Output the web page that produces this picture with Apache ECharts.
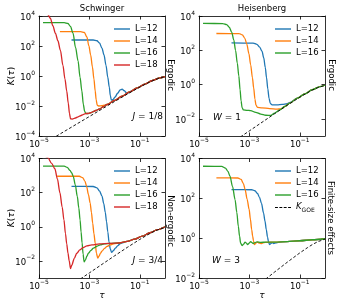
<!DOCTYPE html>
<html><head><meta charset="utf-8">
<script src="https://cdn.jsdelivr.net/npm/echarts@6/dist/echarts.min.js"></script>
<style>html,body{margin:0;padding:0;background:#fff}#c{width:340px;height:306px}</style>
</head><body><div id="c"></div>
<script>
// Axes are decade exponents: x = log10(tau), y = log10(K)
const xTicks = [-5, -3, -1];
const yTicksTL = [-4, -2, 0, 2, 4];
const yTicksTR = [-2, 0, 2, 4];
const yTicksBL = [-2, 0, 2, 4];
const yTicksBR = [-2, 0, 2, 4];
const names = ['L=12', 'L=14', 'L=16', 'L=18'];
const colors = ['#1f77b4', '#ff7f0e', '#2ca02c', '#d62728'];

// K_GOE reference line
const goeT = [-5, -4, -3, -2, -1.5, -1, -0.7, -0.5, -0.3, 0];
const goeK = [-4.70, -3.70, -2.70, -1.70, -1.21, -0.74, -0.48, -0.32, -0.185, -0.045];

// Top-left: Schwinger, J = 1/8
const tlL12t = [-3.71, -2.85, -2.7, -2.6, -2.5, -2.42, -2.34, -2.27, -2.21, -2.17, -2.13, -2.07, -1.98, -1.88, -1.78, -1.7, -1.62, -1.53, -1.45, -1.3, -1.1, -0.8, -0.5, -0.2, 0];
const tlL12k = [2.40, 2.40, 2.35, 2.2, 1.85, 1.4, 0.7, -0.1, -0.75, -1.3, -1.6, -1.58, -1.4, -1.15, -0.93, -0.88, -0.98, -1.12, -1.12, -0.98, -0.8, -0.54, -0.3, -0.12, -0.04];
const tlL14t = [-4.17, -3.35, -3.2, -3.1, -3.02, -2.95, -2.88, -2.82, -2.77, -2.73, -2.69, -2.63, -2.5, -2.4, -2.3, -2.0, -1.7, -1.4, -1.1, -0.8, -0.5, -0.2, 0];
const tlL14k = [2.96, 2.96, 2.9, 2.6, 2.0, 1.4, 0.6, -0.2, -1.0, -1.6, -1.95, -2.0, -1.98, -1.94, -1.9, -1.62, -1.34, -1.06, -0.79, -0.54, -0.3, -0.12, -0.04];
const tlL16t = [-4.84, -4.0, -3.85, -3.75, -3.65, -3.55, -3.45, -3.37, -3.3, -3.24, -3.19, -3.14, -3.05, -2.95, -2.85, -2.75, -2.6, -2.45, -2.3, -2.0, -1.7, -1.4, -1.1, -0.8, -0.5, -0.2, 0];
const tlL16k = [3.56, 3.56, 3.5, 3.3, 2.85, 1.9, 1.0, -0.1, -1.0, -1.9, -2.35, -2.5, -2.5, -2.45, -2.38, -2.3, -2.2, -2.05, -1.9, -1.62, -1.34, -1.06, -0.79, -0.54, -0.3, -0.12, -0.04];
const tlL18t = [-5.0, -4.8, -4.65, -4.55, -4.45, -4.35, -4.25, -4.15, -4.05, -3.97, -3.9, -3.84, -3.79, -3.75, -3.68, -3.55, -3.45, -3.35, -3.25, -3.14, -3.05, -2.95, -2.85, -2.75, -2.6, -2.45, -2.3, -2.0, -1.7, -1.4, -1.1, -0.8, -0.5, -0.2, 0];
const tlL18k = [4.2, 4.18, 4.1, 3.85, 3.35, 2.85, 2.35, 1.7, 0.7, -0.2, -1.0, -1.8, -2.5, -2.85, -2.87, -2.8, -2.72, -2.65, -2.57, -2.5, -2.5, -2.45, -2.38, -2.3, -2.2, -2.05, -1.9, -1.62, -1.34, -1.06, -0.79, -0.54, -0.3, -0.12, -0.04];

// Top-right: Heisenberg, W = 1
const trL12t = [-3.71, -2.85, -2.7, -2.6, -2.5, -2.43, -2.37, -2.32, -2.27, -2.22, -2.17, -2.1, -1.9, -1.7, -1.5, -1.35, -1.1, -0.8, -0.5, -0.2, 0];
const trL12k = [2.43, 2.42, 2.35, 2.2, 1.95, 1.55, 1.0, 0.4, -0.25, -0.8, -1.1, -1.18, -1.18, -1.15, -1.12, -1.02, -0.79, -0.54, -0.3, -0.12, -0.04];
const trL14t = [-4.31, -3.4, -3.28, -3.18, -3.1, -3.02, -2.95, -2.88, -2.83, -2.78, -2.74, -2.68, -2.5, -2.2, -1.9, -1.75, -1.6, -1.4, -1.1, -0.8, -0.5, -0.2, 0];
const trL14k = [2.98, 2.97, 2.9, 2.7, 2.35, 1.8, 1.15, 0.4, -0.2, -0.85, -1.2, -1.33, -1.36, -1.4, -1.43, -1.42, -1.28, -1.08, -0.79, -0.54, -0.3, -0.12, -0.04];
const trL16t = [-4.84, -4.05, -3.9, -3.8, -3.7, -3.62, -3.55, -3.48, -3.42, -3.37, -3.33, -3.29, -3.24, -3.1, -2.95, -2.75, -2.55, -2.35, -2.15, -2.0, -1.8, -1.6, -1.4, -1.1, -0.8, -0.5, -0.2, 0];
const trL16k = [3.57, 3.56, 3.5, 3.35, 3.05, 2.6, 2.0, 1.25, 0.5, -0.3, -0.95, -1.35, -1.48, -1.5, -1.52, -1.62, -1.72, -1.79, -1.8, -1.66, -1.48, -1.28, -1.08, -0.79, -0.54, -0.3, -0.12, -0.04];

// Bottom-left: Schwinger, J = 3/4
const blL12t = [-3.71, -2.85, -2.7, -2.6, -2.5, -2.43, -2.37, -2.32, -2.27, -2.22, -2.17, -2.12, -2.05, -1.97, -1.87, -1.77, -1.5, -1.2, -0.9, -0.6, -0.3, 0];
const blL12k = [2.37, 2.36, 2.28, 2.1, 1.8, 1.35, 0.85, 0.3, -0.3, -0.9, -1.3, -1.5, -1.4, -1.25, -1.1, -0.98, -0.86, -0.72, -0.55, -0.35, -0.17, 0.0];
const blL14t = [-4.28, -3.4, -3.27, -3.18, -3.11, -3.04, -2.97, -2.92, -2.87, -2.82, -2.77, -2.72, -2.67, -2.62, -2.56, -2.5, -2.4, -2.3, -2.17, -2.04, -1.8, -1.5, -1.2, -0.9, -0.6, -0.3, 0];
const blL14k = [2.96, 2.96, 2.88, 2.68, 2.37, 1.9, 1.39, 0.85, 0.22, -0.4, -0.96, -1.55, -1.84, -1.72, -1.55, -1.42, -1.27, -1.15, -1.06, -1.0, -0.95, -0.86, -0.72, -0.55, -0.35, -0.17, 0.0];
const blL16t = [-4.84, -4.0, -3.88, -3.77, -3.7, -3.64, -3.56, -3.48, -3.42, -3.37, -3.33, -3.29, -3.25, -3.21, -3.16, -3.1, -3.04, -2.94, -2.84, -2.7, -2.57, -2.4, -2.2, -1.8, -1.5, -1.2, -0.9, -0.6, -0.3, 0];
const blL16k = [3.55, 3.55, 3.48, 3.3, 3.15, 2.95, 2.45, 1.78, 1.1, 0.4, -0.3, -0.95, -1.6, -2.05, -1.95, -1.72, -1.55, -1.38, -1.25, -1.14, -1.06, -1.0, -0.97, -0.95, -0.86, -0.72, -0.55, -0.35, -0.17, 0.0];
const blL18t = [-5.0, -4.8, -4.65, -4.5, -4.37, -4.27, -4.17, -4.08, -4.01, -3.95, -3.9, -3.85, -3.8, -3.75, -3.7, -3.6, -3.5, -3.38, -3.25, -3.1, -2.9, -2.6, -2.2, -1.8, -1.5, -1.2, -0.9, -0.6, -0.3, 0];
const blL18k = [4.2, 4.17, 4.05, 3.72, 3.4, 2.8, 2.0, 1.15, 0.4, -0.4, -1.0, -1.55, -2.0, -2.45, -2.25, -1.85, -1.55, -1.35, -1.22, -1.12, -1.06, -1.0, -0.97, -0.95, -0.86, -0.72, -0.55, -0.35, -0.17, 0.0];

// Bottom-right: Heisenberg, W = 3
const brL12t = [-3.71, -2.9, -2.78, -2.68, -2.6, -2.52, -2.44, -2.38, -2.33, -2.28, -2.24, -2.2, -2.15, -2.09, -2.03, -1.95, -1.85, -1.5, -1.0, -0.5, 0];
const brL12k = [2.44, 2.43, 2.38, 2.25, 2.05, 1.75, 1.27, 0.85, 0.43, 0.05, -0.2, -0.32, -0.27, -0.22, -0.27, -0.24, -0.21, -0.17, -0.13, -0.08, -0.03];
const brL14t = [-4.31, -3.45, -3.33, -3.24, -3.17, -3.09, -3.01, -2.96, -2.91, -2.87, -2.84, -2.8, -2.74, -2.68, -2.6, -2.52, -2.42, -2.3, -2.0, -1.5, -1.0, -0.5, 0];
const brL14k = [3.03, 3.02, 2.95, 2.75, 2.44, 1.95, 1.44, 0.95, 0.43, 0.1, -0.12, -0.32, -0.25, -0.2, -0.25, -0.27, -0.22, -0.21, -0.2, -0.17, -0.13, -0.08, -0.03];
const brL16t = [-4.84, -4.1, -3.95, -3.85, -3.77, -3.67, -3.57, -3.5, -3.44, -3.39, -3.35, -3.29, -3.23, -3.17, -3.12, -3.07, -3.01, -2.95, -2.9, -2.85, -2.78, -2.7, -2.55, -2.35, -2.0, -1.5, -1.0, -0.5, 0];
const brL16k = [3.61, 3.6, 3.52, 3.35, 3.11, 2.6, 1.94, 1.3, 0.6, 0.1, -0.24, -0.37, -0.3, -0.2, -0.25, -0.32, -0.25, -0.17, -0.22, -0.27, -0.22, -0.19, -0.21, -0.2, -0.2, -0.17, -0.13, -0.08, -0.03];

const FF = 'DejaVu Sans';
const zip = (a, b) => a.map((v, i) => [v, b[i]]);

const panels = [
  { grid: { left: 39, top: 16, width: 126, height: 120 }, yMin: -4, yMax: 4, yTicks: yTicksTL,
    curves: [[tlL12t, tlL12k], [tlL14t, tlL14k], [tlL16t, tlL16k], [tlL18t, tlL18k]] },
  { grid: { left: 199, top: 16, width: 126, height: 120 }, yMin: -3, yMax: 4, yTicks: yTicksTR,
    curves: [[trL12t, trL12k], [trL14t, trL14k], [trL16t, trL16k]] },
  { grid: { left: 39, top: 158.5, width: 126, height: 119.5 }, yMin: -3, yMax: 4, yTicks: yTicksBL,
    curves: [[blL12t, blL12k], [blL14t, blL14k], [blL16t, blL16k], [blL18t, blL18k]] },
  { grid: { left: 199, top: 158.5, width: 126, height: 119.5 }, yMin: -2, yMax: 4, yTicks: yTicksBR,
    curves: [[brL12t, brL12k], [brL14t, brL14k], [brL16t, brL16k]] }
];

const expFmt = v => '{b|10}{s|' + (v < 0 ? '\u2212' + (-v) : String(v)) + '}';
const labRich = {
  b: { fontSize: 8.5, fontFamily: FF, color: '#000', lineHeight: 12, verticalAlign: 'bottom' },
  s: { fontSize: 6, fontFamily: FF, color: '#000', lineHeight: 5, verticalAlign: 'top' }
};
const lineS = { color: '#000', width: 0.8 };

const grids = [], xAxes = [], yAxes = [], series = [];
panels.forEach((p, pi) => {
  grids.push(Object.assign({ containLabel: false, show: false }, p.grid));
  [['bottom', true], ['top', false]].forEach(([pos, lab]) => {
    xAxes.push({
      type: 'value', gridIndex: pi, position: pos, min: -5, max: 0,
      axisLine: { show: true, onZero: false, lineStyle: lineS },
      axisTick: { show: true, inside: true, length: 3.5, customValues: xTicks, lineStyle: lineS },
      axisLabel: { show: lab, customValues: xTicks, formatter: expFmt, rich: labRich, margin: 1 },
      splitLine: { show: false }
    });
  });
  [['left', true], ['right', false]].forEach(([pos, lab]) => {
    yAxes.push({
      type: 'value', gridIndex: pi, position: pos, min: p.yMin, max: p.yMax,
      axisLine: { show: true, onZero: false, lineStyle: lineS },
      axisTick: { show: true, inside: true, length: 3.5, customValues: p.yTicks, lineStyle: lineS },
      axisLabel: { show: lab, customValues: p.yTicks, formatter: expFmt, rich: labRich, margin: 4 },
      splitLine: { show: false }
    });
  });
  p.curves.forEach((c, ci) => {
    series.push({
      type: 'line', name: names[ci], xAxisIndex: 2 * pi, yAxisIndex: 2 * pi,
      data: zip(c[0], c[1]), symbol: 'none', showSymbol: false,
      smooth: 0.3, smoothMonotone: 'x', clip: true,
      lineStyle: { color: colors[ci], width: 1.3 }, itemStyle: { color: colors[ci] },
      emphasis: { disabled: true }, silent: true
    });
  });
  series.push({
    type: 'line', name: 'KGOE', xAxisIndex: 2 * pi, yAxisIndex: 2 * pi,
    data: zip(goeT, goeK), symbol: 'none', showSymbol: false, clip: true,
    lineStyle: { color: '#000', width: 0.9, type: [3, 2] }, itemStyle: { color: '#000' },
    emphasis: { disabled: true }, silent: true
  });
});

const legText = { fontSize: 8.5, fontFamily: FF, color: '#000', lineHeight: 10,
  rich: { k: { fontSize: 8.5, fontFamily: FF, fontStyle: 'italic', color: '#000', lineHeight: 11, verticalAlign: 'top' },
          g: { fontSize: 6, fontFamily: FF, color: '#000', lineHeight: 6, verticalAlign: 'bottom' } } };
const dashIcon = 'path://M0 0H3V1H0Z M4.5 0H7.5V1H4.5Z M9 0H12V1H9Z M13.5 0H16.5V1H13.5Z';
const mkLegend = (data, left, top) => ({
  data: data.map(n => ({ name: n, icon: n === 'KGOE' ? dashIcon : 'rect' })),
  left: left, top: top, orient: 'vertical', itemWidth: 16, itemHeight: 1.4, itemGap: 2,
  selectedMode: false, textStyle: legText, padding: 0,
  formatter: n => n === 'KGOE' ? '{k|K}{g|GOE}' : n
});

const txt = (text, x, y, opts) => Object.assign({
  type: 'text', x: x, y: y, silent: true,
  style: Object.assign({ text: text, fontSize: 8.5, fontFamily: FF, fill: '#000', align: 'center', verticalAlign: 'middle' }, (opts && opts.style) || {})
}, (opts && opts.el) || {});
const itRich = { i: { fontStyle: 'italic', fontSize: 9, fontFamily: FF, fill: '#000' }, n: { fontSize: 9, fontFamily: FF, fill: '#000' } };

const option = {
  animation: false,
  backgroundColor: '#fff',
  grid: grids, xAxis: xAxes, yAxis: yAxes, series: series,
  legend: [
    mkLegend(['L=12', 'L=14', 'L=16', 'L=18'], 114, 24),
    mkLegend(['L=12', 'L=14', 'L=16'], 275, 24),
    mkLegend(['L=12', 'L=14', 'L=16', 'L=18'], 114, 166),
    mkLegend(['L=12', 'L=14', 'L=16', 'KGOE'], 275, 166)
  ],
  graphic: [
    txt('Schwinger', 102, 8.5),
    txt('Heisenberg', 262, 8.5),
    txt('Ergodic', 170, 75, { el: { rotation: -Math.PI / 2 } }),
    txt('Ergodic', 331, 75, { el: { rotation: -Math.PI / 2 } }),
    txt('Non-ergodic', 170, 221, { el: { rotation: -Math.PI / 2 } }),
    txt('Finite-size effects', 330, 218, { el: { rotation: -Math.PI / 2 } }),
    txt('{i|K}{n|(}{i|\u03c4}{n|)}', 12, 76, { el: { rotation: Math.PI / 2 }, style: { rich: itRich } }),
    txt('{i|K}{n|(}{i|\u03c4}{n|)}', 12, 218, { el: { rotation: Math.PI / 2 }, style: { rich: itRich } }),
    txt('{i|\u03c4}', 102, 296, { style: { rich: itRich } }),
    txt('{i|\u03c4}', 262, 296, { style: { rich: itRich } }),
    txt('{i|J}{n| = 1/8}', 163, 117, { style: { rich: itRich, align: 'right' } }),
    txt('{i|W}{n| = 1}', 213, 118, { style: { rich: itRich, align: 'left' } }),
    txt('{i|J}{n| = 3/4}', 163, 261, { style: { rich: itRich, align: 'right' } }),
    txt('{i|W}{n| = 3}', 212, 261, { style: { rich: itRich, align: 'left' } })
  ]
};

const chart = echarts.init(document.getElementById('c'), null, { renderer: 'canvas' });
chart.setOption(option);
</script>
</body></html>
